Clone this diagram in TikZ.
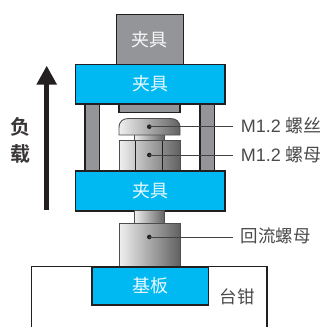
\documentclass[tikz,border=0pt]{standalone}
\usepackage{fontspec}
\setmainfont{Liberation Sans}
\newfontfamily\cjk{Noto Sans CJK SC}
\newfontfamily\cjkb{Noto Sans CJK SC Bold}
\definecolor{ink}{HTML}{231F20}
\definecolor{cyanb}{HTML}{00B9F2}
\definecolor{grayb}{HTML}{939598}
\definecolor{lbl}{HTML}{4A4A4C}
\tikzset{
  blk/.style={draw=ink,line width=1.7pt,fill=cyanb,minimum width=#1,inner sep=0pt,rectangle,anchor=north west,text=white!92!cyanb,font=\cjk\fontsize{18}{18}\selectfont},
  gbox/.style={draw=ink,line width=1.5pt,fill=grayb},
  metal/.style={draw=ink!80,line width=0.9pt,left color=gray!12,right color=black!62},
  dotn/.style={circle,fill=ink,inner sep=0pt,minimum size=4.6pt},
  leader/.style={draw=ink!85,line width=0.9pt},
  lab/.style={anchor=west,inner sep=0pt,text=lbl,font=\fontsize{18}{18}\selectfont},
  load/.style={text=ink!90,inner sep=0pt,font=\cjkb\fontsize{20}{20}\selectfont}
}
\begin{document}
\begin{tikzpicture}[x=1pt,y=-1pt]
\useasboundingbox (0,0) rectangle (324,327);
% vise
\draw[draw=ink,line width=1.5pt] (31.5,327) -- (31.5,266.5) -- (267,266.5) -- (267,327);
% top fixture
\node[gbox,minimum width=67pt,minimum height=50pt,inner sep=0pt,anchor=north west,text=white!92!grayb,font=\cjk\fontsize{18}{18}\selectfont] (top) at (115.7,13.5) {夹具};
% pillars
\draw[gbox,line width=1.1pt] (85,100) rectangle (99.3,172);
\draw[gbox,line width=1.1pt] (200,100) rectangle (214.3,172);
% small spacer
\draw[gbox] (118.8,100) rectangle (180.2,112.3);
% screw
\draw[metal] (134.3,134) rectangle (164.7,141);
\draw[metal] (119,135) -- (119,128) .. controls (119,121) and (123,118.5) .. (129,118.5) -- (170,118.5) .. controls (176,118.5) and (180,121) .. (180,128) -- (180,135) -- cycle;
\draw[metal] (119,140.5) rectangle (180,170);
\draw[ink,line width=0.7pt] (135.7,140.5) -- (135.7,170) (162.7,140.5) -- (162.7,170);
% fixtures
\node[blk=149.6pt,minimum height=39.5pt] (upper) at (74.7,63.5) {夹具};
\node[blk=149.6pt,minimum height=39.5pt] (lower) at (74.7,170.3) {夹具};
% reflow nut
\draw[metal] (134.3,210) rectangle (164.7,223.5);
\draw[metal] (119,223.5) rectangle (180,266);
% base
\node[blk=116.5pt,minimum height=38pt] (base) at (91.2,266.3) {基板};
% leaders
\node[dotn] (d1) at (149.3,126.7) {};
\node[dotn] (d2) at (149.3,155) {};
\node[dotn] (d3) at (149.3,237) {};
\node[lab] (l1) at (240.7,126) {M1.2 {\cjk 螺丝}};
\node[lab] (l2) at (240.7,154.5) {M1.2 {\cjk 螺母}};
\node[lab,font=\cjk\fontsize{17.5}{18}\selectfont] (l3) at (240.7,236) {回流螺母};
\coordinate (e1) at (233,126.7);
\coordinate (e2) at (233,155);
\coordinate (e3) at (233,237);
\draw[leader] (d1.center) -- (e1);
\draw[leader] (d2.center) -- (e2);
\draw[leader] (d3.center) -- (e3);
\node[lab,font=\cjk\fontsize{17.5}{18}\selectfont] (vise) at (219.5,297) {台钳};
% load arrow
\coordinate (as) at (46.7,210);
\coordinate (ab) at (46.7,84);
\draw[ink,line width=4.7pt] (as) -- (ab);
\fill[ink] (46.7,66) -- (57,84.5) -- (36.4,84.5) -- cycle;
\node[load] (f1) at (20,127) {负};
\node[load] (f2) at (20,154) {载};
\end{tikzpicture}
\end{document}
